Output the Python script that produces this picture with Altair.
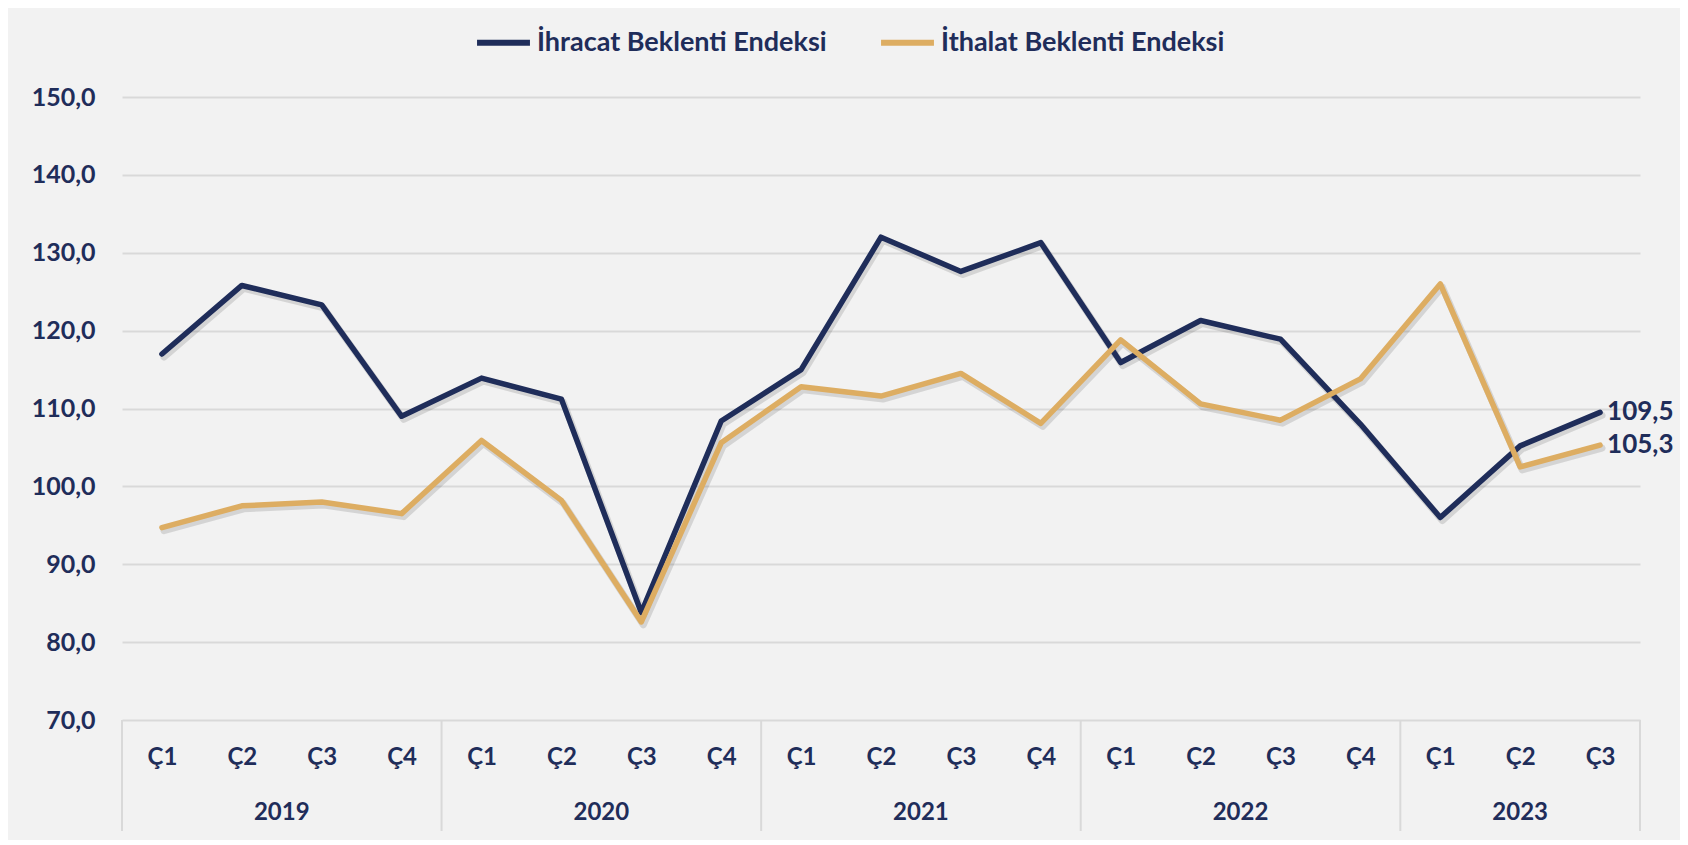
import altair as alt
import pandas as pd

# ---- data ----
years = ["2019"] * 4 + ["2020"] * 4 + ["2021"] * 4 + ["2022"] * 4 + ["2023"] * 3
quarters = ["Ç1", "Ç2", "Ç3", "Ç4"] * 4 + ["Ç1", "Ç2", "Ç3"]
ihracat = [117.0, 125.8, 123.3, 109.0, 113.9, 111.2, 83.8, 108.4, 115.0, 132.0,
           127.6, 131.3, 115.9, 121.3, 118.9, 108.0, 96.0, 105.2, 109.5]
ithalat = [94.7, 97.5, 98.0, 96.5, 105.9, 98.2, 82.6, 105.6, 112.8, 111.6,
           114.5, 108.1, 118.8, 110.6, 108.5, 113.8, 126.0, 102.5, 105.3]
series_names = ["İhracat Beklenti Endeksi", "İthalat Beklenti Endeksi"]
y_ticks = [70, 80, 90, 100, 110, 120, 130, 140, 150]

NAVY = "#1F2D5A"
ORANGE = "#DDAD62"
GRID = "#D9D9D9"
FONT = "Lato"

n = len(quarters)
rows = []
for name, vals in zip(series_names, [ihracat, ithalat]):
    for i, v in enumerate(vals):
        rows.append({"idx": i, "year": years[i], "q": quarters[i], "series": name, "value": v})
df = pd.DataFrame(rows)

# year group centres and boundaries
yr = pd.DataFrame({"idx": range(n), "year": years})
centres = yr.groupby("year", sort=False)["idx"].mean().reset_index().rename(columns={"idx": "c"})
bounds = sorted(set([-0.5] + [g["idx"].max() + 0.5 for _, g in yr.groupby("year")]))
bounds_df = pd.DataFrame({"b": bounds})

q_arr = "[" + ",".join("'" + q + "'" for q in quarters) + "]"

x_enc = alt.X(
    "idx:Q",
    scale=alt.Scale(domain=[-0.5, n - 0.5], nice=False, zero=False),
    axis=alt.Axis(
        values=list(range(n)), labelExpr=q_arr + "[datum.value]", grid=False,
        domain=False, ticks=False, labelPadding=25, labelFontSize=24,
        labelFont=FONT, labelFontWeight="bold", labelColor=NAVY, title=None,
    ),
)
y_enc = alt.Y(
    "value:Q",
    scale=alt.Scale(domain=[70, 150], nice=False, zero=False),
    axis=alt.Axis(
        values=y_ticks, labelExpr="replace(format(datum.value, '.1f'), '.', ',')",
        gridColor=GRID, gridWidth=2, domain=False, ticks=False, labelPadding=27,
        labelFontSize=25, labelFont=FONT, labelFontWeight="bold", labelColor=NAVY,
        title=None,
    ),
)
color_enc = alt.Color(
    "series:N",
    scale=alt.Scale(domain=series_names, range=[NAVY, ORANGE]),
    legend=alt.Legend(
        orient="none", legendX=352, legendY=-84, direction="horizontal", title=None,
        symbolType="stroke", symbolStrokeWidth=6, symbolSize=2800,
        labelFontSize=27, labelFont=FONT, labelFontWeight="bold", labelColor=NAVY,
        columnPadding=42, labelOffset=4, labelLimit=450,
    ),
)

base = alt.Chart(df)

shadow = base.mark_line(stroke="#000000", opacity=0.12, strokeWidth=7, xOffset=2, yOffset=3,
                        strokeCap="round", strokeJoin="round").encode(
    x=x_enc, y=y_enc, detail="series:N"
)
lines = base.mark_line(strokeWidth=5.5, strokeCap="round", strokeJoin="round").encode(
    x=x_enc, y=y_enc, color=color_enc
)
end_labels = base.transform_filter(alt.datum.idx == n - 1).transform_calculate(
    lab="replace(format(datum.value, '.1f'), '.', ',')"
).mark_text(align="left", baseline="middle", dx=7, fontSize=26, font=FONT,
            fontWeight="bold", color=NAVY).encode(x="idx:Q", y="value:Q", text="lab:N")

seps = alt.Chart(bounds_df).mark_rule(color=GRID, strokeWidth=2).encode(
    x="b:Q", y=alt.value(623), y2=alt.value(734)
)
year_text = alt.Chart(centres).mark_text(fontSize=24, font=FONT, fontWeight="bold",
                                         color=NAVY, baseline="middle").encode(
    x="c:Q", y=alt.value(716), text="year:N"
)

chart = alt.layer(shadow, lines, end_labels, seps, year_text).properties(
    width=1518, height=623,
    padding={"left": 114, "top": 89, "right": 40, "bottom": 120},
    autosize=alt.AutoSizeParams(type="none"),
    background="#F2F2F2",
).configure_view(stroke=None)

chart.save("out.html", embed_options={"renderer": "svg", "actions": False})
